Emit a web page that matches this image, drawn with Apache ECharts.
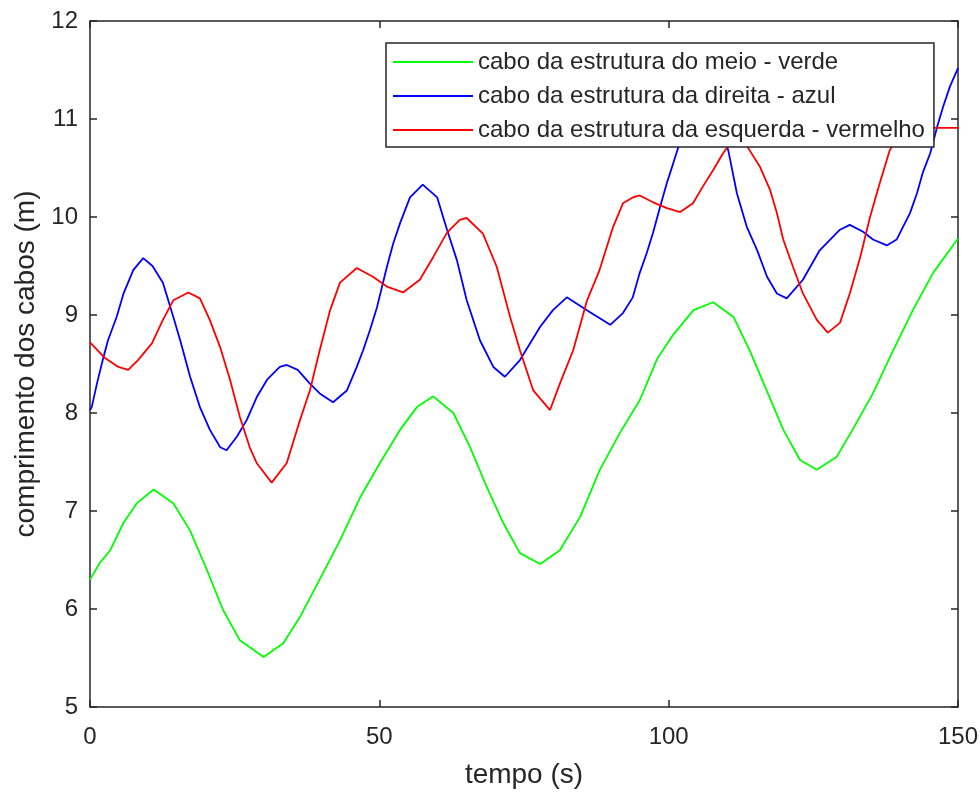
<!DOCTYPE html>
<html>
<head>
<meta charset="utf-8">
<title>comprimento dos cabos</title>
<script src="https://cdn.jsdelivr.net/npm/echarts@6/dist/echarts.min.js"></script>
<style>
  html, body {
    margin: 0;
    padding: 0;
    background: #fff;
  }
  #chart {
    width: 980px;
    height: 792px;
  }
</style>
</head>
<body>
<div id="chart"></div>
<script>
// tempo (s) / comprimento (m)
var tVerde = [0, 1.7, 3.5, 5.8, 8.1, 11, 14.4, 17.3, 20.2, 23, 25.9, 30, 33.4, 36.3, 39.5, 43.2, 46.7, 50.1, 53.6, 56.5, 59.3, 62.8, 65.7, 68.6, 71.4, 74.3, 77.8, 81.2, 84.7, 88.1, 91.6, 95, 98, 100.8, 104.3, 107.7, 111.2, 114, 117, 119.8, 122.7, 125.6, 129, 131.8, 135.3, 138.8, 142.2, 145.7, 150];
var vVerde = [6.30, 6.47, 6.60, 6.88, 7.08, 7.22, 7.08, 6.80, 6.40, 5.99, 5.68, 5.51, 5.65, 5.92, 6.28, 6.70, 7.14, 7.49, 7.83, 8.06, 8.17, 8.00, 7.65, 7.24, 6.88, 6.57, 6.46, 6.60, 6.94, 7.42, 7.80, 8.13, 8.55, 8.80, 9.05, 9.13, 8.98, 8.64, 8.22, 7.83, 7.52, 7.42, 7.55, 7.83, 8.20, 8.64, 9.05, 9.43, 9.78];

var tAzul = [0, 0.3, 1.2, 2.2, 3.1, 4.6, 5.8, 7.5, 9.2, 10.8, 12.6, 14.4, 15.6, 17.3, 19, 20.7, 22.5, 23.6, 25.4, 27.1, 28.8, 30.6, 32.8, 34, 35.9, 38, 39.7, 42, 44.4, 46.1, 47.2, 48.4, 49.6, 51.3, 52.4, 53.6, 55.3, 57.5, 60, 61.7, 63.4, 65.1, 67.4, 69.7, 71.7, 74.3, 77.8, 80, 82.4, 85.8, 89.9, 92.1, 93.8, 95, 96.2, 97.3, 98.5, 99.7, 100.8, 101.6, 103.5, 105.5, 107.5, 109, 110.3, 111.8, 113.5, 115.3, 117, 118.7, 120.4, 123.2, 126.1, 129.6, 131.3, 133.6, 135.3, 137.7, 139.4, 140.5, 141.7, 142.9, 143.9, 145.2, 146.4, 147.4, 148.6, 150];
var vAzul = [8.03, 8.06, 8.30, 8.54, 8.74, 8.98, 9.22, 9.46, 9.58, 9.50, 9.33, 8.98, 8.74, 8.37, 8.06, 7.83, 7.65, 7.62, 7.76, 7.93, 8.16, 8.34, 8.47, 8.49, 8.44, 8.30, 8.20, 8.11, 8.23, 8.47, 8.64, 8.85, 9.08, 9.49, 9.73, 9.94, 10.20, 10.33, 10.20, 9.87, 9.56, 9.15, 8.74, 8.47, 8.37, 8.54, 8.88, 9.05, 9.18, 9.05, 8.90, 9.02, 9.18, 9.43, 9.63, 9.84, 10.10, 10.35, 10.55, 10.70, 10.95, 11.10, 11.05, 10.90, 10.68, 10.24, 9.90, 9.66, 9.39, 9.22, 9.17, 9.36, 9.66, 9.87, 9.92, 9.85, 9.77, 9.71, 9.77, 9.90, 10.04, 10.24, 10.45, 10.65, 10.92, 11.12, 11.33, 11.52];

var tVermelho = [0, 2.6, 4.9, 6.6, 8.3, 10.7, 12.6, 14.4, 17, 19, 20.7, 22.5, 24.2, 25.9, 27.6, 28.8, 31.4, 34, 36.3, 38, 39.7, 41.5, 43.2, 46.1, 48.9, 51.3, 54.1, 57, 59.3, 61.7, 63.9, 65.1, 67.9, 70.3, 72.6, 74.3, 76.6, 79.5, 81.2, 83.5, 85.9, 88, 90.4, 92.1, 93.8, 95, 97.3, 99.7, 102, 104.2, 105.9, 107.7, 109.4, 111, 112.5, 114, 115.8, 117.5, 118.7, 119.8, 121.5, 123.2, 125.6, 127.5, 129.6, 131.3, 133.1, 134.8, 136.5, 138.2, 140, 142, 146.4, 150];
var vVermelho = [8.72, 8.56, 8.47, 8.44, 8.54, 8.71, 8.95, 9.15, 9.23, 9.17, 8.95, 8.67, 8.34, 7.96, 7.65, 7.49, 7.29, 7.49, 7.93, 8.23, 8.64, 9.05, 9.33, 9.48, 9.39, 9.29, 9.23, 9.36, 9.59, 9.84, 9.97, 9.99, 9.83, 9.49, 8.98, 8.64, 8.23, 8.03, 8.30, 8.64, 9.15, 9.45, 9.90, 10.14, 10.20, 10.22, 10.15, 10.09, 10.05, 10.14, 10.31, 10.48, 10.65, 10.78, 10.82, 10.68, 10.51, 10.28, 10.04, 9.77, 9.49, 9.22, 8.95, 8.82, 8.92, 9.22, 9.59, 10.00, 10.35, 10.68, 10.86, 10.92, 10.91, 10.91];

var nomes = [
  'cabo da estrutura do meio - verde',
  'cabo da estrutura da direita - azul',
  'cabo da estrutura da esquerda - vermelho'
];
var cores = ['#00ff00', '#0000ff', '#ff0000'];

var FONTE = '"Liberation Sans", Arial, Helvetica, sans-serif';
var COR_EIXO = '#262626';

function juntar(ts, vs) {
  var out = [];
  for (var i = 0; i < ts.length; i++) {
    out.push([ts[i], vs[i]]);
  }
  return out;
}

// eixos do topo e da direita so para fechar a caixa (ticks para dentro)
function eixoCaixa(pos, min, max, interval) {
  return {
    type: 'value',
    position: pos,
    min: min,
    max: max,
    interval: interval,
    axisLine: { show: true, onZero: false, lineStyle: { color: COR_EIXO, width: 1.5 } },
    axisTick: { show: true, inside: true, length: 7, lineStyle: { color: COR_EIXO, width: 1.5 } },
    axisLabel: { show: false },
    splitLine: { show: false }
  };
}

var series = [
  juntar(tVerde, vVerde),
  juntar(tAzul, vAzul),
  juntar(tVermelho, vVermelho)
].map(function (d, i) {
  return {
    name: nomes[i],
    type: 'line',
    xAxisIndex: 0,
    yAxisIndex: 0,
    data: d,
    showSymbol: false,
    symbol: 'none',
    smooth: false,
    lineStyle: { color: cores[i], width: 1.8 },
    itemStyle: { color: cores[i] },
    z: 2
  };
});

var option = {
  backgroundColor: '#fff',
  animation: false,
  textStyle: { fontFamily: FONTE },
  grid: {
    left: 90,
    right: 22,
    top: 21,
    bottom: 85,
    containLabel: false,
    outerBoundsMode: 'none'
  },
  legend: {
    orient: 'vertical',
    left: 386,
    top: 43,
    padding: [6, 9, 4, 7],
    itemGap: 8,
    itemWidth: 80,
    itemHeight: 2,
    icon: 'rect',
    backgroundColor: '#fff',
    borderColor: COR_EIXO,
    borderWidth: 1.5,
    borderRadius: 0,
    z: 10,
    textStyle: {
      fontFamily: FONTE,
      fontSize: 24,
      lineHeight: 26,
      color: COR_EIXO
    },
    data: nomes
  },
  xAxis: [{
    type: 'value',
    position: 'bottom',
    min: 0,
    max: 150,
    interval: 50,
    name: 'tempo (s)',
    nameLocation: 'middle',
    nameGap: 54,
    nameTextStyle: { fontFamily: FONTE, fontSize: 28, color: COR_EIXO },
    axisLine: { show: true, onZero: false, lineStyle: { color: COR_EIXO, width: 1.5 } },
    axisTick: { show: true, inside: true, length: 7, lineStyle: { color: COR_EIXO, width: 1.5 } },
    axisLabel: { fontFamily: FONTE, fontSize: 24, color: COR_EIXO, margin: 18 },
    splitLine: { show: false }
  }, eixoCaixa('top', 0, 150, 50)],
  yAxis: [{
    type: 'value',
    position: 'left',
    min: 5,
    max: 12,
    interval: 1,
    name: 'comprimento dos cabos (m)',
    nameLocation: 'middle',
    nameRotate: 90,
    nameGap: 42,
    nameTextStyle: { fontFamily: FONTE, fontSize: 28, color: COR_EIXO },
    axisLine: { show: true, onZero: false, lineStyle: { color: COR_EIXO, width: 1.5 } },
    axisTick: { show: true, inside: true, length: 7, lineStyle: { color: COR_EIXO, width: 1.5 } },
    axisLabel: { fontFamily: FONTE, fontSize: 24, color: COR_EIXO, margin: 12 },
    splitLine: { show: false }
  }, eixoCaixa('right', 5, 12, 1)],
  series: series
};

var chart = echarts.init(document.getElementById('chart'), null, { renderer: 'canvas' });
chart.setOption(option);
</script>
</body>
</html>
